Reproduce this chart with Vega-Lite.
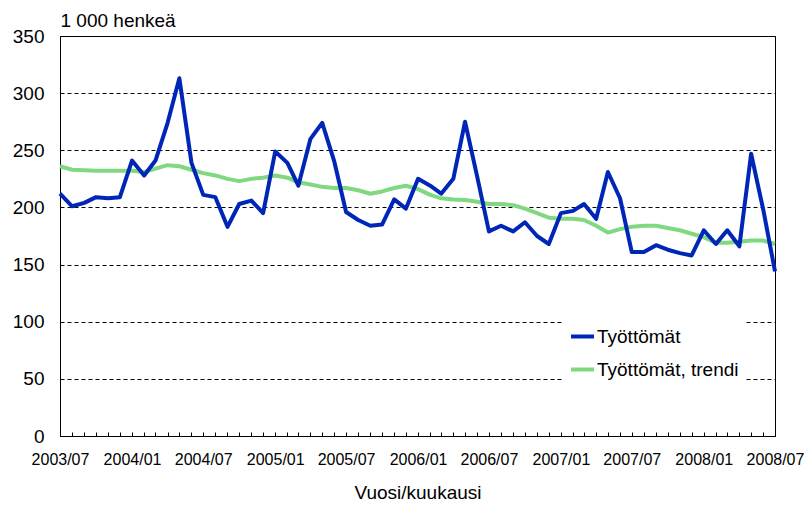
{
  "$schema": "https://vega.github.io/schema/vega-lite/v6.json",
  "width": 715,
  "height": 400,
  "autosize": {"type": "none"},
  "padding": {"left": 60, "top": 36, "right": 33, "bottom": 71},
  "background": "white",
  "data": {
    "values": [
      {"kk": "2003-07-01", "Työttömät": 212, "Työttömät, trendi": 236},
      {"kk": "2003-08-01", "Työttömät": 201, "Työttömät, trendi": 233},
      {"kk": "2003-09-01", "Työttömät": 204, "Työttömät, trendi": 232.5},
      {"kk": "2003-10-01", "Työttömät": 209, "Työttömät, trendi": 232},
      {"kk": "2003-11-01", "Työttömät": 208, "Työttömät, trendi": 232},
      {"kk": "2003-12-01", "Työttömät": 209, "Työttömät, trendi": 232},
      {"kk": "2004-01-01", "Työttömät": 241, "Työttömät, trendi": 232},
      {"kk": "2004-02-01", "Työttömät": 228, "Työttömät, trendi": 231},
      {"kk": "2004-03-01", "Työttömät": 241, "Työttömät, trendi": 234},
      {"kk": "2004-04-01", "Työttömät": 274, "Työttömät, trendi": 237},
      {"kk": "2004-05-01", "Työttömät": 313, "Työttömät, trendi": 236},
      {"kk": "2004-06-01", "Työttömät": 239, "Työttömät, trendi": 233},
      {"kk": "2004-07-01", "Työttömät": 211, "Työttömät, trendi": 230},
      {"kk": "2004-08-01", "Työttömät": 209, "Työttömät, trendi": 228},
      {"kk": "2004-09-01", "Työttömät": 183, "Työttömät, trendi": 225},
      {"kk": "2004-10-01", "Työttömät": 203, "Työttömät, trendi": 223},
      {"kk": "2004-11-01", "Työttömät": 206, "Työttömät, trendi": 225},
      {"kk": "2004-12-01", "Työttömät": 195, "Työttömät, trendi": 226},
      {"kk": "2005-01-01", "Työttömät": 249, "Työttömät, trendi": 228},
      {"kk": "2005-02-01", "Työttömät": 239, "Työttömät, trendi": 226},
      {"kk": "2005-03-01", "Työttömät": 219, "Työttömät, trendi": 222},
      {"kk": "2005-04-01", "Työttömät": 260, "Työttömät, trendi": 220},
      {"kk": "2005-05-01", "Työttömät": 274, "Työttömät, trendi": 218},
      {"kk": "2005-06-01", "Työttömät": 240, "Työttömät, trendi": 217},
      {"kk": "2005-07-01", "Työttömät": 196, "Työttömät, trendi": 217},
      {"kk": "2005-08-01", "Työttömät": 189, "Työttömät, trendi": 215},
      {"kk": "2005-09-01", "Työttömät": 184, "Työttömät, trendi": 212},
      {"kk": "2005-10-01", "Työttömät": 185, "Työttömät, trendi": 214},
      {"kk": "2005-11-01", "Työttömät": 207, "Työttömät, trendi": 217},
      {"kk": "2005-12-01", "Työttömät": 199, "Työttömät, trendi": 219},
      {"kk": "2006-01-01", "Työttömät": 225, "Työttömät, trendi": 216},
      {"kk": "2006-02-01", "Työttömät": 219, "Työttömät, trendi": 211},
      {"kk": "2006-03-01", "Työttömät": 212, "Työttömät, trendi": 208},
      {"kk": "2006-04-01", "Työttömät": 225, "Työttömät, trendi": 207},
      {"kk": "2006-05-01", "Työttömät": 275, "Työttömät, trendi": 206.5},
      {"kk": "2006-06-01", "Työttömät": 227, "Työttömät, trendi": 205},
      {"kk": "2006-07-01", "Työttömät": 179, "Työttömät, trendi": 203},
      {"kk": "2006-08-01", "Työttömät": 184, "Työttömät, trendi": 203},
      {"kk": "2006-09-01", "Työttömät": 179, "Työttömät, trendi": 202},
      {"kk": "2006-10-01", "Työttömät": 187, "Työttömät, trendi": 199},
      {"kk": "2006-11-01", "Työttömät": 175, "Työttömät, trendi": 195},
      {"kk": "2006-12-01", "Työttömät": 168, "Työttömät, trendi": 191},
      {"kk": "2007-01-01", "Työttömät": 195, "Työttömät, trendi": 190},
      {"kk": "2007-02-01", "Työttömät": 197, "Työttömät, trendi": 190},
      {"kk": "2007-03-01", "Työttömät": 203, "Työttömät, trendi": 189},
      {"kk": "2007-04-01", "Työttömät": 190, "Työttömät, trendi": 184},
      {"kk": "2007-05-01", "Työttömät": 231, "Työttömät, trendi": 178},
      {"kk": "2007-06-01", "Työttömät": 208, "Työttömät, trendi": 181},
      {"kk": "2007-07-01", "Työttömät": 161, "Työttömät, trendi": 183},
      {"kk": "2007-08-01", "Työttömät": 161, "Työttömät, trendi": 184},
      {"kk": "2007-09-01", "Työttömät": 167, "Työttömät, trendi": 184},
      {"kk": "2007-10-01", "Työttömät": 163, "Työttömät, trendi": 182},
      {"kk": "2007-11-01", "Työttömät": 160, "Työttömät, trendi": 180},
      {"kk": "2007-12-01", "Työttömät": 158, "Työttömät, trendi": 177},
      {"kk": "2008-01-01", "Työttömät": 180, "Työttömät, trendi": 174},
      {"kk": "2008-02-01", "Työttömät": 168, "Työttömät, trendi": 169},
      {"kk": "2008-03-01", "Työttömät": 180, "Työttömät, trendi": 169},
      {"kk": "2008-04-01", "Työttömät": 166, "Työttömät, trendi": 170},
      {"kk": "2008-05-01", "Työttömät": 247, "Työttömät, trendi": 171},
      {"kk": "2008-06-01", "Työttömät": 198, "Työttömät, trendi": 171},
      {"kk": "2008-07-01", "Työttömät": 144, "Työttömät, trendi": 168}
    ]
  },
  "transform": [
    {"fold": ["Työttömät, trendi", "Työttömät"], "as": ["sarja", "arvo"]}
  ],
  "mark": {"type": "line", "strokeWidth": 4, "strokeJoin": "round"},
  "encoding": {
    "x": {
      "field": "kk",
      "type": "temporal",
      "scale": {
        "type": "utc",
        "nice": false,
        "domain": [
          {"year": 2003, "month": 7, "date": 1, "utc": true},
          {"year": 2008, "month": 7, "date": 1, "utc": true}
        ]
      },
      "axis": {
        "title": "Vuosi/kuukausi",
        "tickCount": {"interval": "month", "step": 1},
        "labelExpr": "utcmonth(datum.value) % 6 == 0 ? utcFormat(datum.value, '%Y/%m') : ''",
        "ticks": true,
        "tickSize": -4,
        "tickWidth": 1,
        "tickColor": "black",
        "tickOpacity": 1,
        "zindex": 2,
        "encode": {
          "ticks": {
            "update": {
              "y2": {"signal": "utcmonth(datum.value) % 6 == 0 ? -9 : -4"}
            }
          }
        },
        "grid": false,
        "labelFontSize": 16,
        "labelPadding": 19,
        "labelOverlap": false,
        "labelFlush": false,
        "labelBound": false,
        "titleFontSize": 19,
        "titleY": 62,
        "titleBaseline": "alphabetic"
      }
    },
    "y": {
      "field": "arvo",
      "type": "quantitative",
      "scale": {"domain": [0, 350], "nice": false},
      "axis": {
        "title": "1 000 henkeä",
        "values": [0, 50, 100, 150, 200, 250, 300, 350],
        "grid": true,
        "gridColor": "black",
        "gridOpacity": 1,
        "gridDash": [4, 3],
        "gridWidth": 1,
        "ticks": false,
        "labelFontSize": 19,
        "labelPadding": 16,
        "titleAngle": 0,
        "titleAlign": "left",
        "titleBaseline": "alphabetic",
        "titleX": 0,
        "titleY": -10,
        "titleFontSize": 19
      }
    },
    "color": {
      "field": "sarja",
      "type": "nominal",
      "scale": {
        "domain": ["Työttömät", "Työttömät, trendi"],
        "range": ["#0026B8", "#80D880"]
      },
      "legend": {
        "title": null,
        "orient": "none",
        "legendX": 502,
        "legendY": 280,
        "fillColor": "white",
        "padding": 7,
        "labelFontSize": 19,
        "labelOffset": 1,
        "labelColor": "black",
        "symbolType": "stroke",
        "symbolSize": 529,
        "symbolStrokeWidth": 4,
        "rowPadding": 9
      }
    }
  },
  "config": {
    "font": "Liberation Sans",
    "view": {"stroke": "black", "strokeWidth": 1},
    "axis": {
      "domainColor": "black",
      "tickColor": "black",
      "labelColor": "black",
      "titleColor": "black",
      "titleFontWeight": "normal"
    }
  }
}
